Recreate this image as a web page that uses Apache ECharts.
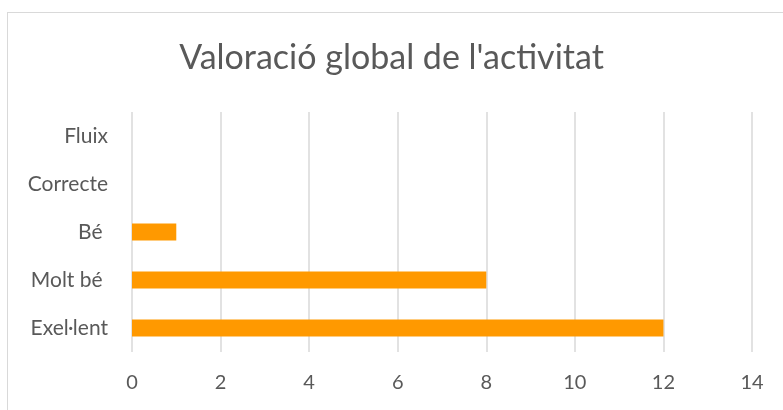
<!DOCTYPE html>
<html lang="ca">
  <head>
    <meta charset="utf-8" />
    <script src="https://cdn.jsdelivr.net/npm/echarts@6/dist/echarts.min.js"></script>
    <style>
      html, body { margin: 0; padding: 0; background: #fff; }
      #chart { width: 783px; height: 410px; position: relative; }
      #frame { position: absolute; left: 7px; top: 12px; width: 790px; height: 410px; border: 1px solid #d9d9d9; box-sizing: border-box; pointer-events: none; }
    </style>
    <title>Valoració global de l'activitat</title>
  </head>
  <body>
    <div id="chart"></div>
    <script>
      // bottom to top, as the category axis draws them
      var categories = ['Exel·lent', 'Molt bé ', 'Bé ', 'Correcte', 'Fluix']
      var values = [12, 8, 1, 0, 0]
      var xTicks = { min: 0, max: 14, interval: 2 }

      var chart = echarts.init(document.getElementById('chart'), null, { renderer: 'canvas' })
      chart.setOption({
        animation: false,
        backgroundColor: '#fff',
        title: {
          text: "Valoració global de l'activitat",
          left: 'center',
          top: 36,
          textStyle: { fontFamily: 'Lato', fontSize: 34, fontWeight: 'normal', color: '#595959' }
        },
        grid: { left: 132, right: 31, top: 112, bottom: 58, containLabel: false },
        xAxis: {
          type: 'value',
          min: xTicks.min,
          max: xTicks.max,
          interval: xTicks.interval,
          axisLine: { show: false },
          axisTick: { show: false },
          axisLabel: { margin: 21, fontFamily: 'Lato', fontSize: 20, color: '#595959' },
          splitLine: { lineStyle: { color: '#d9d9d9', width: 1.5 } }
        },
        yAxis: {
          type: 'category',
          data: categories,
          axisLine: { show: false },
          axisTick: { show: false },
          axisLabel: { margin: 24, fontFamily: 'Lato', fontSize: 21, color: '#595959' }
        },
        series: [{
          type: 'bar',
          data: values,
          barWidth: 17,
          itemStyle: { color: '#ff9900' }
        }]
      })
      var frame = document.createElement('div')
      frame.id = 'frame'
      document.getElementById('chart').appendChild(frame)
    </script>
  </body>
</html>
